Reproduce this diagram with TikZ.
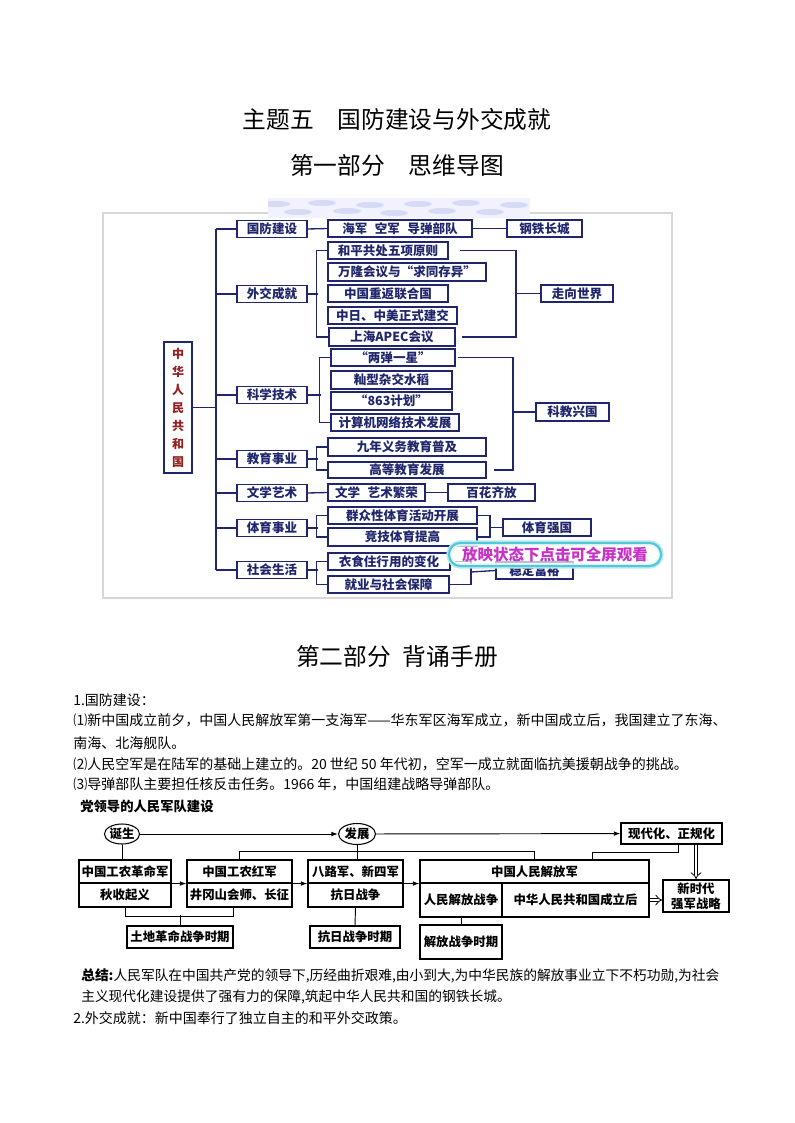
\documentclass[tikz,border=0pt]{standalone}
\usepackage{fontspec}
\setmainfont{Noto Sans CJK SC}
\usetikzlibrary{arrows.meta, positioning, shapes.geometric}

\definecolor{mapnavy}{RGB}{32,38,108}
\definecolor{rootred}{RGB}{150,30,30}
\definecolor{capcyan}{RGB}{80,200,215}
\definecolor{capmag}{RGB}{200,50,200}
\definecolor{framegray}{RGB}{215,215,215}

\tikzset{wh/.style 2 args={minimum width=#1*0.75pt, minimum height=#2*0.75pt}}

\begin{document}
\begin{tikzpicture}[
  x=0.75pt, y=-0.75pt,
  mbox/.style={draw=mapnavy, line width=1.1pt, fill=white, text=mapnavy, inner sep=0pt, font=\fontsize{9.4}{11}\selectfont\bfseries},
  mline/.style={draw=mapnavy, line width=1pt},
  abox/.style={draw, line width=0.8pt, fill=white, inner sep=0pt, font=\fontsize{9.3}{11.5}\selectfont\bfseries},
  arr/.style={-{Latex[length=5pt, width=3.5pt]}, line width=0.7pt},
  dbl/.style={double, double distance=2.2pt, line width=0.6pt, -{Implies}},
  body/.style={anchor=west, inner sep=0pt, font=\fontsize{10.5}{12}\selectfont},
  ttl/.style={inner sep=0pt, font=\fontsize{17.8}{20}\selectfont}
  ]
  \fill[white] (0,0) rectangle (794,1123);
  \useasboundingbox (0,0) rectangle (794,1123);

  % titles
  \node[ttl] (title) at (397,119) {主题五\hspace{1em}国防建设与外交成就};
  \node[ttl] (part1) at (397,165) {第一部分\hspace{1em}思维导图};

  % mind map frame and cloud strip
  \draw[framegray, line width=0.8pt] (103,213) rectangle (672,598);
  \begin{scope}
    \clip (268,198) rectangle (530,218);
    \fill[blue!5] (268,198) rectangle (530,218);
    \foreach \cx/\cy in {276/204, 298/212, 322/203, 347/211, 370/205, 394/213, 418/204, 442/211, 466/203, 490/212, 514/205}
      \fill[cyan!40!blue!30, opacity=0.45] (\cx,\cy) ellipse (14 and 3);
  \end{scope}

  % root
  \node[mbox, wh={28}{131}, align=center, text=rootred, font=\fontsize{9}{13.5}\selectfont\bfseries] (root) at (178,407.5) {中\\华\\人\\民\\共\\和\\国};
  \coordinate (trunk) at (216,407.5);

  % level 1
  \foreach \n/\y/\t in {l1a/229/国防建设, l1b/294/外交成就, l1c/395/科学技术, l1d/459/教育事业, l1e/493/文学艺术, l1f/528/体育事业, l1g/570/社会生活}
    \node[mbox, wh={70}{17}] (\n) at (272,\y) {\t};

  \draw[mline] (root.east) -- (trunk);
  \draw[mline] (l1a.west -| trunk) -- (l1g.west -| trunk);
  \foreach \n in {l1a, l1b, l1c, l1d, l1e, l1f, l1g}
    \draw[mline] (\n.west -| trunk) -- (\n.west);

  % level 2
  \node[mbox, wh={144}{17}] (n1) at (400,228.5) {海军\hspace{0.6em}空军\hspace{0.6em}导弹部队};
  \node[mbox, wh={75}{17}] (n1r) at (544.5,228.5) {钢铁长城};

  \node[mbox, wh={120}{17}] (d1) at (388,250.5) {和平共处五项原则};
  \node[mbox, wh={158}{18}] (d2) at (407,272) {万隆会议与“求同存异”};
  \node[mbox, wh={120}{17}] (d3) at (388,293.5) {中国重返联合国};
  \node[mbox, wh={129}{17}] (d4) at (392.5,315.5) {中日、中美正式建交};
  \node[mbox, wh={126}{18}] (d5) at (392,337) {上海APEC会议};
  \node[mbox, wh={72}{17}] (dR) at (577,293.5) {走向世界};
  \coordinate (dj) at (516,293.5);

  \node[mbox, wh={124}{17}] (s1) at (393,357.5) {“两弹一星”};
  \node[mbox, wh={121}{18}] (s2) at (391.5,380) {籼型杂交水稻};
  \node[mbox, wh={121}{18}] (s3) at (391.5,401) {“863计划”};
  \node[mbox, wh={128}{17}] (s4) at (395,422.5) {计算机网络技术发展};
  \node[mbox, wh={73}{18}] (sR) at (572.5,412) {科教兴国};
  \coordinate (sj) at (513,412);

  \node[mbox, wh={158}{18}] (e1) at (407,447) {九年义务教育普及};
  \node[mbox, wh={158}{16}] (e2) at (407,470) {高等教育发展};

  \node[mbox, wh={97}{17}] (a1) at (376.5,492.5) {文学\hspace{0.6em}艺术繁荣};
  \node[mbox, wh={87}{17}] (aR) at (491.5,492.5) {百花齐放};

  \node[mbox, wh={149}{17}] (p1) at (402.5,515.5) {群众性体育活动开展};
  \node[mbox, wh={149}{18}] (p2) at (402.5,537) {竞技体育提高};
  \node[mbox, wh={88}{17}] (pR) at (547,527.5) {体育强国};
  \coordinate (pj) at (490,527.5);

  \node[mbox, wh={122}{17}] (v1) at (389,561.5) {衣食住行用的变化};
  \node[mbox, wh={121}{17}] (v2) at (388.5,584.5) {就业与社会保障};
  \node[mbox, wh={77}{17}] (vR) at (534.5,570.5) {稳定富裕};
  \coordinate (vj) at (471,572);

  % connectors of the mind map
  \draw[mline] (l1a.east) -- (n1.west);
  \draw[mline] (n1.east) -- (n1r.west);

  \draw[mline] (l1b.east) -- ++(10,0);
  \draw[mline] (d1.west) -- ++(-11,0) |- (d5.west);
  \draw[mline] ([shift={(11,0)}]d1.east) -- (d1.east -| dj) -- (d5.east -| dj) -- ([shift={(6,0)}]d5.east);
  \draw[mline] (dj) -- (dR.west);

  \draw[mline] (l1c.east) -- ++(13,0);
  \draw[mline] (s1.west) -- ++(-11,0) |- (s4.west);
  \draw[mline] ([shift={(2,0)}]s1.east) -- (s1.east -| sj) -- (e2.east -| sj) -- ([shift={(7,0)}]e2.east);
  \draw[mline] (sj) -- (sR.west);

  \draw[mline] (l1d.east) -- ++(10,0);
  \draw[mline] (e1.west) -- ++(-11,0) |- (e2.west);

  \draw[mline] (l1e.east) -- (a1.west);
  \draw[mline] (a1.east) -- (aR.west);

  \draw[mline] (l1f.east) -- ++(10,0);
  \draw[mline] (p1.west) -- ++(-11,0) |- (p2.west);
  \draw[mline] (p1.east) -- (p1.east -| pj) -- (p2.east -| pj) -- (p2.east);
  \draw[mline] (pj) -- (pR.west);

  \draw[mline] (l1g.east) -- ++(10,0);
  \draw[mline] (v1.west) -- ++(-11,0) |- (v2.west);
  \draw[mline] (v1.east) -- (v1.east -| vj) -- (v2.east -| vj) -- (v2.east);
  \draw[mline] (vj) -- (vR.west);

  % overlay capsule
  \node[wh={212}{23}, rounded corners=8.5pt, inner sep=0pt,
    preaction={draw=capcyan!40, line width=4pt},
    draw=capcyan, line width=1.6pt, fill=white, fill opacity=0.7, text opacity=1,
    text=capmag, font=\fontsize{11.6}{13}\selectfont\bfseries] (cap) at (555,554.5) {放映状态下点击可全屏观看};

  % part two
  \node[ttl] (part2) at (397,656) {第二部分\hspace{0.5em}背诵手册};

  \node[body] (t0) at (73,700) {1.国防建设：};
  \node[body] (t1) at (73,720) {⑴新中国成立前夕，中国人民解放军第一支海军——华东军区海军成立，新中国成立后，我国建立了东海、};
  \node[body] (t1b) at (73,743) {南海、北海舰队。};
  \node[body] (t2) at (73,764) {⑵人民空军是在陆军的基础上建立的。20 世纪 50 年代初，空军一成立就面临抗美援朝战争的挑战。};
  \node[body] (t3) at (73,784) {⑶导弹部队主要担任核反击任务。1966 年，中国组建战略导弹部队。};

  % army diagram
  \node[anchor=west, inner sep=0pt, font=\fontsize{10}{12}\selectfont\bfseries] (armyttl) at (80,806) {党领导的人民军队建设};

  \node[ellipse, draw, line width=0.8pt, wh={32}{20}, inner sep=0pt, font=\fontsize{9.3}{11}\selectfont\bfseries] (birth) at (122,834) {诞生};
  \node[ellipse, draw, line width=0.8pt, wh={37}{21}, inner sep=0pt, font=\fontsize{9.3}{11}\selectfont\bfseries] (dev) at (357,834) {发展};
  \node[abox, wh={101}{21}] (mod) at (671.5,833.5) {现代化、正规化};

  \node[abox, wh={92}{23}] (b1t) at (125,871.5) {中国工农革命军};
  \node[abox, wh={92}{24}] (b1b) at (125,895) {秋收起义};
  \node[abox, wh={105}{23}] (b2t) at (239.5,871.5) {中国工农红军};
  \node[abox, wh={105}{24}] (b2b) at (239.5,895) {井冈山会师、长征};
  \node[abox, wh={95}{23}] (b3t) at (355.5,871.5) {八路军、新四军};
  \node[abox, wh={95}{24}] (b3b) at (355.5,895) {抗日战争};
  \node[abox, wh={229}{23}] (b4t) at (534.5,871.5) {中国人民解放军};
  \node[abox, wh={82}{34}] (b4l) at (461,900) {人民解放战争};
  \node[abox, wh={147}{34}] (b4r) at (575.5,900) {中华人民共和国成立后};
  \node[abox, wh={66}{32}, align=center] (b5) at (696,896) {新时代\\强军战略};

  \node[abox, wh={106}{22}] (q1) at (180,937) {土地革命战争时期};
  \node[abox, wh={90}{22}] (q2) at (355,937) {抗日战争时期};
  \node[abox, wh={82}{34}] (q3) at (461,942) {解放战争时期};

  \draw[arr] (birth) -- (dev);
  \draw[arr] (dev) -- (mod);
  \draw[line width=0.7pt] (birth.south) -- (birth.south |- b1t.north);
  \draw[line width=0.7pt] (dev.south) -- (dev.south |- b3t.north);
  \draw[arr] (b1t.south east) -- (b2t.south west);
  \draw[arr] (b2t.south east) -- (b3t.south west);
  \draw[arr] (b3t.south east) -- (b4t.south west);
  \draw[line width=0.7pt] (b2t.north) -- ++(0,-8) -| (b4t.north);
  \draw[line width=0.7pt] ([shift={(6.5,0)}]mod.south) -- ++(0,8) -| ([shift={(57.5,0)}]b4t.north);
  \draw[dbl] (mod.south -| b5) -- (b5.north);
  \draw[dbl] (b4r.east) -- (b4r.east -| b5.west);
  \draw[line width=0.7pt] (b1b.south) -- ++(0,9) -| ([shift={(-6,0)}]b2b.south);
  \draw[line width=0.7pt] (q1.north) -- ++(0,-10);
  \draw[line width=0.7pt] (b3b.south) -- (q2.north);
  \draw[line width=0.7pt] (b4l.south) -- (q3.north);

  % summary
  \node[anchor=west, inner sep=0pt, font=\fontsize{10.3}{12}\selectfont] (sum1) at (81,976) {\textbf{总结:}人民军队在中国共产党的领导下,历经曲折艰难,由小到大,为中华民族的解放事业立下不朽功勋,为社会};
  \node[anchor=west, inner sep=0pt, font=\fontsize{10.3}{12}\selectfont] (sum2) at (81,997) {主义现代化建设提供了强有力的保障,筑起中华人民共和国的钢铁长城。};
  \node[body] (t5) at (73,1018) {2.外交成就：新中国奉行了独立自主的和平外交政策。};
\end{tikzpicture}
\end{document}
